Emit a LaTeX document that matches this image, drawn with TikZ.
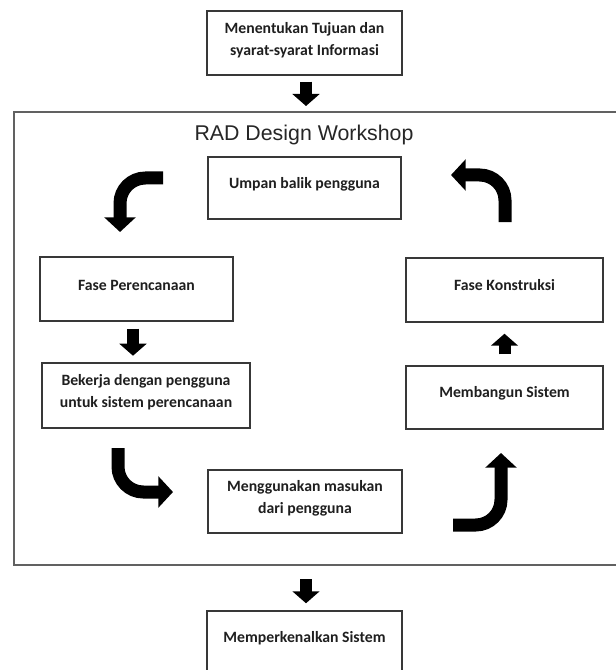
\documentclass[tikz,border=0pt]{standalone}
\usepackage{fontspec}
\newfontfamily\carlito{Carlito}
\newfontfamily\arialf{Liberation Sans}
\usetikzlibrary{arrows.meta,calc}
\begin{document}
\begin{tikzpicture}[x=0.75pt,y=-0.75pt,
 boxst/.style={draw=black!78, line width=1.1pt, rectangle, inner sep=0pt},
 framest/.style={draw=black!62, line width=1.5pt, rectangle, inner sep=0pt},
 txt/.style={font=\carlito\bfseries\fontsize{11.8}{16.5}\selectfont, align=center, text=black!88, inner sep=0pt},
 titlest/.style={font=\arialf\fontsize{16}{19}\selectfont, text=black!85, inner sep=0pt},
 straight/.style={line width=9pt, -{Triangle[width=20pt,length=9pt]}},
 bent/.style={line width=9.75pt, rounded corners=19pt, -{Triangle[width=23pt,length=11pt]}},
]
\clip (0,0) rectangle (616,670);
\fill[white] (0,0) rectangle (616,670);

% outer frame
\node[framest, minimum width=477pt, minimum height=339.75pt] (frame) at (332,338.5) {};
\node[titlest] (title) at (304,135) {RAD Design Workshop};

% boxes
\node[boxst, minimum width=146.25pt, minimum height=48pt] (top) at (304.5,43) {};
\node[boxst, minimum width=144.75pt, minimum height=46.5pt] (umpan) at (304.5,188) {};
\node[boxst, minimum width=144.75pt, minimum height=48pt] (fp) at (136.5,289) {};
\node[boxst, minimum width=156pt, minimum height=48.75pt] (bek) at (146,395.5) {};
\node[boxst, minimum width=145.5pt, minimum height=47.25pt] (meng) at (305,501.5) {};
\node[boxst, minimum width=147.75pt, minimum height=48pt] (fk) at (504.5,290) {};
\node[boxst, minimum width=147.75pt, minimum height=47.25pt] (mb) at (504.5,397.5) {};
\node[boxst, minimum width=146.25pt, minimum height=66.75pt] (mk) at (304.5,655.5) {};

% texts
\node[txt] (ttop) at (304.5,40) {Menentukan Tujuan dan\\syarat-syarat Informasi};
\node[txt] (tumpan) at (304.5,184) {Umpan balik pengguna};
\node[txt] (tfp) at (136.5,285) {Fase Perencanaan};
\node[txt] (tbek) at (146,392) {Bekerja dengan pengguna\\untuk sistem perencanaan};
\node[txt] (tmeng) at (305,498.5) {Menggunakan masukan\\dari pengguna};
\node[txt] (tfk) at (504.5,285) {Fase Konstruksi};
\node[txt] (tmb) at (504.5,393) {Membangun Sistem};
\node[txt] (tmk) at (304.5,638) {Memperkenalkan Sistem};

% straight block arrows
\coordinate (a1s) at ($(top.south)+(1.5,6)$);
\coordinate (a1e) at ($(frame.north)+(-26,-5)$);
\draw[straight] (a1s) -- (a1e);
\coordinate (a2s) at ($(fp.south)+(-3.5,7)$);
\coordinate (a2e) at ($(fp.south)+(-3.5,34)$);
\draw[straight] (a2s) -- (a2e);
\coordinate (a3s) at ($(mb.north)+(0,-11)$);
\coordinate (a3e) at ($(fk.south)+(0,11)$);
\draw[straight] (a3s) -- (a3e);
\coordinate (a4s) at ($(frame.south)+(-26,13)$);
\coordinate (a4e) at ($(mk.north)+(1.5,-7)$);
\draw[straight] (a4s) -- (a4e);

% bent block arrows
\coordinate (tls) at (163,178);
\coordinate (tlc) at (120,178);
\coordinate (tle) at (120,232);
\draw[bent] (tls) -- (tlc) -- (tle);
\coordinate (trs) at (505,222);
\coordinate (trc) at (505,175);
\coordinate (tre) at (451,175);
\draw[bent] (trs) -- (trc) -- (tre);
\coordinate (bls) at (118,448);
\coordinate (blc) at (118,492);
\coordinate (ble) at (173,492);
\draw[bent] (bls) -- (blc) -- (ble);
\coordinate (brs) at (453,525);
\coordinate (brc) at (501,525);
\coordinate (bre) at (501,453);
\draw[bent] (brs) -- (brc) -- (bre);
\end{tikzpicture}
\end{document}
